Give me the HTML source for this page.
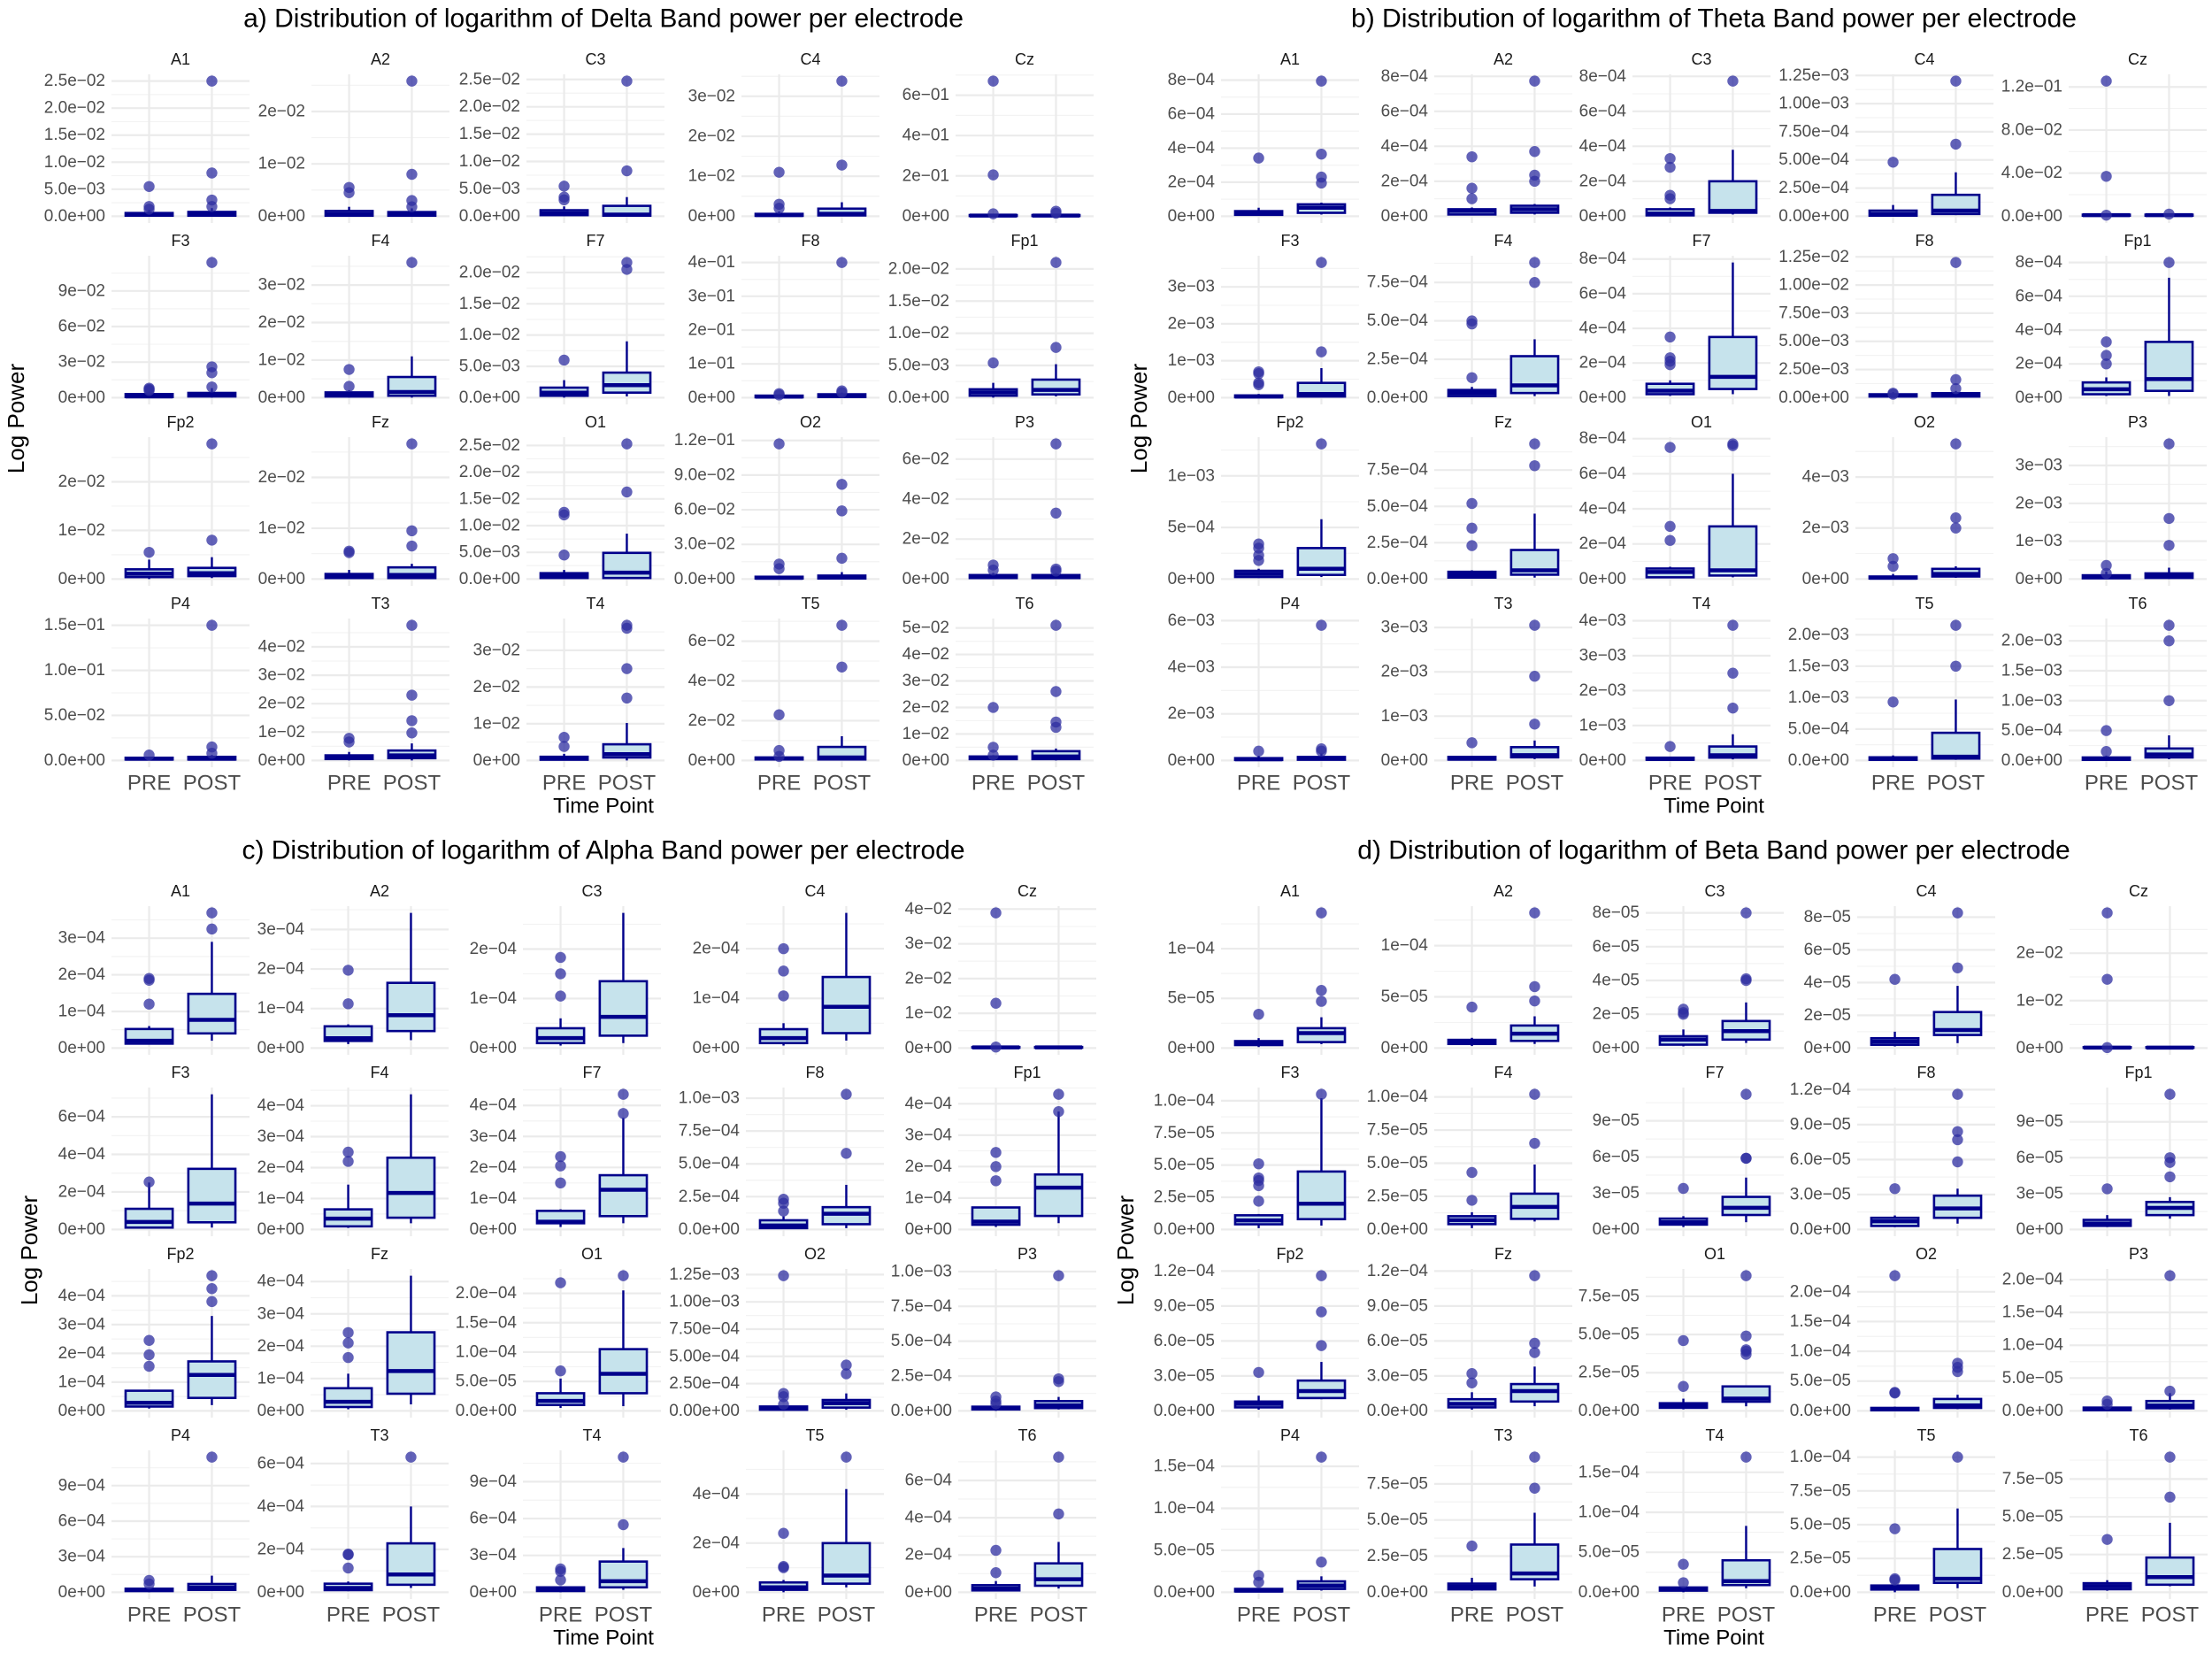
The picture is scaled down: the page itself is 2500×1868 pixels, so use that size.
<!DOCTYPE html>
<html><head><meta charset="utf-8"><style>
html,body{margin:0;padding:0;background:#fff;}
svg{display:block;font-family:"Liberation Sans",Arial,sans-serif;}
</style></head><body>
<svg id="chart" width="2500" height="1868" viewBox="0 0 2500 1868" xmlns="http://www.w3.org/2000/svg"></svg>
<script>
const electrodes = ["A1","A2","C3","C4","Cz","F3","F4","F7","F8","Fp1","Fp2","Fz","O1","O2","P3","P4","T3","T4","T5","T6"];
const timePoints = ["PRE","POST"];

/* ---------- a) Delta ---------- */
const deltaTicks = [
 ["0.0e+00","5.0e-03","1.0e-02","1.5e-02","2.0e-02","2.5e-02"],["0e+00","1e-02","2e-02"],["0.0e+00","5.0e-03","1.0e-02","1.5e-02","2.0e-02","2.5e-02"],["0e+00","1e-02","2e-02","3e-02"],["0e+00","2e-01","4e-01","6e-01"],
 ["0e+00","3e-02","6e-02","9e-02"],["0e+00","1e-02","2e-02","3e-02"],["0.0e+00","5.0e-03","1.0e-02","1.5e-02","2.0e-02"],["0e+00","1e-01","2e-01","3e-01","4e-01"],["0.0e+00","5.0e-03","1.0e-02","1.5e-02","2.0e-02"],
 ["0e+00","1e-02","2e-02"],["0e+00","1e-02","2e-02"],["0.0e+00","5.0e-03","1.0e-02","1.5e-02","2.0e-02","2.5e-02"],["0.0e+00","3.0e-02","6.0e-02","9.0e-02","1.2e-01"],["0e+00","2e-02","4e-02","6e-02"],
 ["0.0e+00","5.0e-02","1.0e-01","1.5e-01"],["0e+00","1e-02","2e-02","3e-02","4e-02"],["0e+00","1e-02","2e-02","3e-02"],["0e+00","2e-02","4e-02","6e-02"],["0e+00","1e-02","2e-02","3e-02","4e-02","5e-02"]];
const deltaPre = [
 [0,0.0001,0.0003,0.0006,0.0012],[0,0.0001,0.0004,0.001,0.0018],[0,0.0002,0.0005,0.0011,0.0018],[0,0.0001,0.0003,0.0006,0.0012],[0,0.001,0.003,0.006,0.01],
 [0,0.0005,0.001,0.003,0.005],[0,0.0003,0.0007,0.0014,0.002],[0,0.0003,0.0008,0.0016,0.0028],[0,0.001,0.003,0.006,0.01],[0,0.0003,0.0008,0.0013,0.0023],
 [0,0.0004,0.0011,0.002,0.004],[0,0.0002,0.0006,0.001,0.0018],[0,0.0002,0.0006,0.0011,0.0017],[0,0.0005,0.001,0.002,0.003],[0,0.0005,0.001,0.002,0.003],
 [0,0.001,0.002,0.003,0.004],[0,0.0005,0.001,0.0018,0.003],[0,0.0002,0.0005,0.001,0.0018],[0,0.0005,0.001,0.0015,0.002],[0,0.0005,0.001,0.0015,0.002]];
const deltaPreOut = [
 [0.0055,0.0018,0.0013],[0.0055,0.0045],[0.0055,0.0035,0.003],[0.011,0.003,0.002],[0.67,0.205,0.012],
 [0.008,0.007,0.006],[0.0075,0.003],[0.006],[0.012,0.008],[0.0054],
 [0.0055],[0.0055,0.0052],[0.0125,0.012,0.0045],[0.117,0.013,0.009],[0.007,0.0045],
 [0.006],[0.0078,0.0065],[0.0063,0.0038],[0.023,0.005,0.002],[0.02,0.005,0.002]];
const deltaPost = [
 [0,0.0001,0.0004,0.0008,0.0015],[0,0.0001,0.0003,0.0008,0.0015],[0,0.0001,0.0003,0.0019,0.0035],[0,0.0002,0.0006,0.0019,0.0035],[0,0.001,0.003,0.006,0.012],
 [0,0.001,0.002,0.004,0.008],[0,0.0005,0.0015,0.0055,0.011],[0.0002,0.0008,0.002,0.004,0.009],[0,0.002,0.005,0.01,0.015],[0.0002,0.0005,0.0012,0.0028,0.0052],
 [0.0002,0.0006,0.0012,0.0023,0.0045],[0,0.0002,0.0008,0.0023,0.003],[0,0.0002,0.0012,0.0049,0.0085],[0,0.0005,0.0015,0.003,0.006],[0,0.0005,0.001,0.002,0.003],
 [0,0.001,0.002,0.004,0.006],[0,0.0008,0.0018,0.0035,0.006],[0,0.0008,0.0017,0.0044,0.0102],[0,0.0005,0.0015,0.0068,0.0122],[0,0.0005,0.0015,0.0035,0.0045]];
const deltaPostOut = [
 [0.025,0.008,0.003,0.0018],[0.0258,0.008,0.003,0.0018],[0.0247,0.0083],[0.0338,0.0128],[0.025,0.015],
 [0.114,0.026,0.021,0.009],[0.036],[0.0216,0.0205],[0.4,0.02,0.015],[0.021,0.0078],
 [0.0278,0.008],[0.0266,0.0095,0.0065],[0.0253,0.0163],[0.082,0.059,0.018],[0.0676,0.033,0.005,0.004],
 [0.15,0.015,0.008],[0.0476,0.023,0.014,0.0097],[0.0368,0.036,0.025,0.017],[0.068,0.047],[0.051,0.026,0.0145,0.0125]];

/* ---------- b) Theta ---------- */
const thetaTicks = [
 ["0e+00","2e-04","4e-04","6e-04","8e-04"],["0e+00","2e-04","4e-04","6e-04","8e-04"],["0e+00","2e-04","4e-04","6e-04","8e-04"],["0.00e+00","2.50e-04","5.00e-04","7.50e-04","1.00e-03","1.25e-03"],["0.0e+00","4.0e-02","8.0e-02","1.2e-01"],
 ["0e+00","1e-03","2e-03","3e-03"],["0.0e+00","2.5e-04","5.0e-04","7.5e-04"],["0e+00","2e-04","4e-04","6e-04","8e-04"],["0.00e+00","2.50e-03","5.00e-03","7.50e-03","1.00e-02","1.25e-02"],["0e+00","2e-04","4e-04","6e-04","8e-04"],
 ["0e+00","5e-04","1e-03"],["0.0e+00","2.5e-04","5.0e-04","7.5e-04"],["0e+00","2e-04","4e-04","6e-04","8e-04"],["0e+00","2e-03","4e-03"],["0e+00","1e-03","2e-03","3e-03"],
 ["0e+00","2e-03","4e-03","6e-03"],["0e+00","1e-03","2e-03","3e-03"],["0e+00","1e-03","2e-03","3e-03","4e-03"],["0.0e+00","5.0e-04","1.0e-03","1.5e-03","2.0e-03"],["0.0e+00","5.0e-04","1.0e-03","1.5e-03","2.0e-03"]];
const thetaPre = [
 [0.000005,0.000008,0.00002,0.00003,0.00005],[0.000005,0.00001,0.00003,0.00004,0.00005],[0.000002,0.000005,0.000015,0.00004,0.00005],[0,0.000005,0.00002,0.00005,0.0001],[0,0.0005,0.001,0.0015,0.002],
 [0,0.00001,0.00003,0.00006,0.0001],[0.000005,0.00001,0.00003,0.00005,0.00007],[0.00001,0.00002,0.00004,0.00008,0.0001],[0,0.0001,0.0002,0.0003,0.0005],[0.00001,0.00002,0.00005,0.00009,0.00012],
 [0.00001,0.00002,0.00005,0.00008,0.0001],[0.000005,0.00001,0.00003,0.00005,0.00006],[0.000005,0.00001,0.00004,0.00006,0.00007],[0,0.00002,0.00005,0.0001,0.0002],[0,0.00002,0.00005,0.0001,0.0002],
 [0,0.00002,0.00005,0.0001,0.0002],[0,0.00002,0.00004,0.00008,0.0001],[0,0.00002,0.00004,0.00008,0.0001],[0,0.00001,0.00003,0.00005,0.00008],[0,0.00001,0.00003,0.00005,0.00008]];
const thetaPreOut = [
 [0.000342],[0.00034,0.00016,0.0001],[0.00033,0.00028,0.00012,0.0001],[0.00048],[0.1254,0.037,0.001],
 [0.0007,0.00065,0.0004,0.00035],[0.0005,0.00048,0.00013],[0.00035,0.00023,0.00021,0.00019],[0.0004,0.0003],[0.00033,0.00025,0.0002],
 [0.00034,0.0003,0.00023,0.00018],[0.00052,0.00035,0.00023],[0.00075,0.0003,0.00022],[0.0008,0.0005],[0.00036,0.00015],
 [0.0004],[0.0004],[0.0004],[0.00093],[0.0005,0.00015]];
const thetaPost = [
 [0.00001,0.00002,0.00005,0.00007,0.00008],[0.00001,0.00002,0.00004,0.00006,0.00007],[0.00001,0.00002,0.00003,0.0002,0.00038],[0.00001,0.00002,0.00005,0.00019,0.00039],[0,0.0005,0.001,0.0015,0.002],
 [0.00001,0.00003,0.0001,0.0004,0.0008],[0.00001,0.00003,0.00008,0.00027,0.00038],[0.00002,0.00005,0.00012,0.00035,0.00078],[0,0.0001,0.0002,0.0004,0.0006],[0.00001,0.00004,0.00011,0.00033,0.00071],
 [0.00002,0.00004,0.0001,0.0003,0.00058],[0.00001,0.00003,0.00006,0.0002,0.00045],[0.00001,0.00002,0.00005,0.0003,0.0006],[0.00005,0.0001,0.0002,0.0004,0.0005],[0,0.00003,0.00008,0.00015,0.0003],
 [0,0.00003,0.0001,0.00015,0.0003],[0.00003,0.00007,0.00012,0.0003,0.00045],[0.00003,0.00008,0.00015,0.0004,0.00075],[0.00001,0.00003,0.00006,0.00044,0.00097],[0.00002,0.00005,0.0001,0.0002,0.00042]];
const thetaPostOut = [
 [0.000794,0.000365,0.00023,0.000195],[0.000773,0.00037,0.000235,0.0002],[0.000773],[0.0012,0.00064],[0.002],
 [0.00366,0.00124],[0.00088,0.00075],[],[0.012,0.0016,0.0008],[0.0008],
 [0.00131],[0.00093,0.00078],[0.00077,0.00076],[0.0053,0.0024,0.002],[0.00357,0.0016,0.00089],
 [0.0058,0.0005,0.0004],[0.00305,0.0019,0.00082],[0.00387,0.0025,0.0015],[0.00215,0.0015],[0.00226,0.002,0.001]];

/* ---------- c) Alpha ---------- */
const alphaTicks = [
 ["0e+00","1e-04","2e-04","3e-04"],["0e+00","1e-04","2e-04","3e-04"],["0e+00","1e-04","2e-04"],["0e+00","1e-04","2e-04"],["0e+00","1e-02","2e-02","3e-02","4e-02"],
 ["0e+00","2e-04","4e-04","6e-04"],["0e+00","1e-04","2e-04","3e-04","4e-04"],["0e+00","1e-04","2e-04","3e-04","4e-04"],["0.0e+00","2.5e-04","5.0e-04","7.5e-04","1.0e-03"],["0e+00","1e-04","2e-04","3e-04","4e-04"],
 ["0e+00","1e-04","2e-04","3e-04","4e-04"],["0e+00","1e-04","2e-04","3e-04","4e-04"],["0.0e+00","5.0e-05","1.0e-04","1.5e-04","2.0e-04"],["0.00e+00","2.50e-04","5.00e-04","7.50e-04","1.00e-03","1.25e-03"],["0.0e+00","2.5e-04","5.0e-04","7.5e-04","1.0e-03"],
 ["0e+00","3e-04","6e-04","9e-04"],["0e+00","2e-04","4e-04","6e-04"],["0e+00","3e-04","6e-04","9e-04"],["0e+00","2e-04","4e-04"],["0e+00","2e-04","4e-04","6e-04"]];
const alphaPre = [
 [0.00001,0.000012,0.00002,0.000052,0.00006],[0.00001,0.000018,0.000025,0.000055,0.00006],[0.000005,0.00001,0.00002,0.00004,0.00006],[0.000005,0.00001,0.00002,0.000038,0.00005],[0,0.0001,0.0002,0.0003,0.0005],
 [0.000005,0.00001,0.00004,0.00011,0.00025],[0.000005,0.00001,0.000035,0.000065,0.000145],[0.000008,0.00002,0.000025,0.00006,0.000065],[0.000005,0.00001,0.00003,0.00007,0.0001],[0.000008,0.000015,0.000025,0.00007,0.00007],
 [0.000008,0.000015,0.000028,0.00007,0.00007],[0.000005,0.000012,0.000028,0.00007,0.000115],[0.000005,0.00001,0.000017,0.00003,0.000055],[0,0.00001,0.00002,0.00004,0.00005],[0,0.00001,0.00002,0.00003,0.00004],
 [0,0.00001,0.00002,0.00003,0.00004],[0.000005,0.00001,0.00002,0.00004,0.00005],[0,0.00001,0.00002,0.00004,0.00005],[0,0.00001,0.00002,0.00004,0.00005],[0.000005,0.00001,0.00002,0.000038,0.00006]];
const alphaPreOut = [
 [0.00019,0.000185,0.00012],[0.000197,0.000112],[0.000183,0.00015,0.000105],[0.0002,0.000155,0.000105],[0.0389,0.0129,0.0003],
 [0.000253],[0.00025,0.00022],[0.000235,0.000205,0.00015],[0.00023,0.0002,0.00014],[0.000245,0.0002,0.000155],
 [0.000245,0.000195,0.000155],[0.000242,0.00021,0.000165],[0.000218,0.000068],[0.00124,0.00016,0.00013,0.00006],[0.0001,0.00007,0.00005],
 [0.0001,0.00007],[0.000178,0.000175,0.000113],[0.00019,0.00017,0.0001],[0.00024,0.000105,0.0001],[0.000225,0.000105]];
const alphaPost = [
 [0.00002,0.00004,0.000077,0.000148,0.00029],[0.00002,0.000043,0.000083,0.000165,0.000342],[0.00001,0.000025,0.000063,0.000135,0.000273],[0.000015,0.00003,0.000083,0.000143,0.000272],[0,0.0001,0.0002,0.0003,0.0005],
 [0.00001,0.000038,0.000138,0.000323,0.00072],[0.00002,0.000038,0.000118,0.000232,0.000437],[0.00002,0.000043,0.000128,0.000175,0.00036],[0.00001,0.00004,0.00012,0.00017,0.00034],[0.00002,0.000043,0.000133,0.000175,0.000375],
 [0.00002,0.000045,0.000125,0.000172,0.00033],[0.00002,0.000053,0.000123,0.000243,0.000418],[0.000008,0.00003,0.000063,0.000105,0.000205],[0.00001,0.00003,0.00007,0.0001,0.00016],[0.00001,0.00002,0.00004,0.00007,0.0001],
 [0.00001,0.00002,0.00004,0.00007,0.00014],[0.00002,0.000035,0.000083,0.000228,0.0004],[0.00002,0.00004,0.00009,0.00025,0.00036],[0.00002,0.000035,0.000068,0.0002,0.00042],[0.00002,0.000035,0.00007,0.000155,0.00027]];
const alphaPostOut = [
 [0.000369,0.000325],[],[],[],[],
 [],[],[0.000436,0.000374],[0.00103,0.00058],[0.00043,0.000375],
 [0.00047,0.000425,0.00038],[],[0.00023],[0.00042,0.00034],[0.00097,0.00023,0.00021],
 [0.00114],[0.00063],[0.0011,0.00055],[0.00055],[0.000725,0.00042]];

/* ---------- d) Beta ---------- */
const betaTicks = [
 ["0e+00","5e-05","1e-04"],["0e+00","5e-05","1e-04"],["0e+00","2e-05","4e-05","6e-05","8e-05"],["0e+00","2e-05","4e-05","6e-05","8e-05"],["0e+00","1e-02","2e-02"],
 ["0.0e+00","2.5e-05","5.0e-05","7.5e-05","1.0e-04"],["0.0e+00","2.5e-05","5.0e-05","7.5e-05","1.0e-04"],["0e+00","3e-05","6e-05","9e-05"],["0.0e+00","3.0e-05","6.0e-05","9.0e-05","1.2e-04"],["0e+00","3e-05","6e-05","9e-05"],
 ["0.0e+00","3.0e-05","6.0e-05","9.0e-05","1.2e-04"],["0.0e+00","3.0e-05","6.0e-05","9.0e-05","1.2e-04"],["0.0e+00","2.5e-05","5.0e-05","7.5e-05"],["0.0e+00","5.0e-05","1.0e-04","1.5e-04","2.0e-04"],["0.0e+00","5.0e-05","1.0e-04","1.5e-04","2.0e-04"],
 ["0.0e+00","5.0e-05","1.0e-04","1.5e-04"],["0.0e+00","2.5e-05","5.0e-05","7.5e-05"],["0.0e+00","5.0e-05","1.0e-04","1.5e-04"],["0.0e+00","2.5e-05","5.0e-05","7.5e-05","1.0e-04"],["0.0e+00","2.5e-05","5.0e-05","7.5e-05"]];
const betaPre = [
 [0.000001,0.000003,0.000005,0.000007,0.00001],[0.000002,0.000004,0.000006,0.000008,0.00001],[0.000001,0.000002,0.000005,0.000007,0.000011],[0.000001,0.000002,0.000004,0.000006,0.00001],[0,0.00005,0.0001,0.0002,0.0003],
 [0.000001,0.000004,0.000007,0.000011,0.000012],[0.000001,0.000004,0.000007,0.00001,0.000013],[0.000002,0.000004,0.000006,0.000009,0.000011],[0.000002,0.000003,0.000007,0.00001,0.000012],[0.000002,0.000003,0.000005,0.000008,0.000012],
 [0.000001,0.000003,0.000006,0.000008,0.000013],[0.000001,0.000003,0.000006,0.00001,0.000016],[0.000001,0.000002,0.000003,0.000005,0.000008],[0,0.000001,0.000003,0.000005,0.000007],[0,0.000001,0.000003,0.000005,0.000007],
 [0,0.000001,0.000002,0.000004,0.000005],[0.000001,0.000002,0.000004,0.000006,0.00001],[0,0.000002,0.000004,0.000006,0.000007],[0,0.000002,0.000003,0.000005,0.000005],[0.000001,0.000002,0.000004,0.000006,0.000008]];
const betaPreOut = [
 [0.000034],[0.00004],[0.000023,0.000021,0.00002],[0.000042],[0.0285,0.0145,0.0001],
 [0.000051,0.00004,0.000038,0.000034,0.000022],[0.000043,0.000022],[0.000034],[0.000035],[0.000034],
 [0.000033],[0.000032,0.000024],[0.000046,0.000016],[0.000227,0.00003,0.000031],[0.000015,0.00001],
 [0.00002,0.000012],[0.000032],[0.000035,0.000012],[0.000047,0.00001,0.000009],[0.000035]];
const betaPost = [
 [0.000004,0.000006,0.000015,0.00002,0.000031],[0.000004,0.000007,0.000014,0.000022,0.000031],[0.000003,0.000005,0.00001,0.000016,0.000027],[0.000003,0.000008,0.000011,0.000022,0.000038],[0,0.00005,0.0001,0.0002,0.0003],
 [0.000003,0.000008,0.00002,0.000045,0.000102],[0.000006,0.000008,0.000017,0.000027,0.000049],[0.000006,0.000012,0.000018,0.000027,0.000043],[0.000005,0.00001,0.000018,0.000029,0.000035],[0.000009,0.000012,0.000018,0.000023,0.000027],
 [0.00001,0.000011,0.000017,0.000026,0.000042],[0.000004,0.000008,0.000017,0.000023,0.000038],[0.000003,0.000006,0.000008,0.000016,0.000016],[0.000003,0.000005,0.000009,0.00002,0.000027],[0.000002,0.000004,0.000008,0.000015,0.000027],
 [0.000002,0.000004,0.000008,0.000013,0.000019],[0.000004,0.000009,0.000013,0.000033,0.000055],[0.000005,0.000009,0.000014,0.00004,0.000083],[0.000003,0.000007,0.00001,0.000032,0.000062],[0.000004,0.000005,0.00001,0.000023,0.000046]];
const betaPostOut = [
 [0.000136,0.000058,0.000047],[0.000132,0.00006,0.000046],[0.00008,0.000041,0.00004],[0.0000826,0.000049],[],
 [0.000105],[0.000102,0.000065],[0.000112,0.000059,0.000059],[0.000116,0.000084,0.000077,0.000058],[0.000113,0.00006,0.000056,0.000044],
 [0.000116,0.000085,0.000056],[0.000116,0.000058,0.00005],[0.0000885,0.000049,0.00004,0.000039,0.000037],[0.00008,0.000073,0.000066],[0.000206,0.00003],
 [0.000161,0.000036],[0.0000935,0.000072],[0.000169],[0.0001],[0.0000895,0.000063]];

const plots = [
 {key:'delta', title:'a) Distribution of logarithm of Delta Band power per electrode', ox:0, oy:0, cols:[126,352,595,838,1080], cx:682, lx:18, ticks:deltaTicks, pre:deltaPre, preOut:deltaPreOut, post:deltaPost, postOut:deltaPostOut},
 {key:'theta', title:'b) Distribution of logarithm of Theta Band power per electrode', ox:1250, oy:0, cols:[130,371,595,847,1088], cx:687, lx:37, ticks:thetaTicks, pre:thetaPre, preOut:thetaPreOut, post:thetaPost, postOut:thetaPostOut},
 {key:'alpha', title:'c) Distribution of logarithm of Alpha Band power per electrode', ox:0, oy:940, cols:[126,351,591,843,1083], cx:682, lx:33, ticks:alphaTicks, pre:alphaPre, preOut:alphaPreOut, post:alphaPost, postOut:alphaPostOut},
 {key:'beta', title:'d) Distribution of logarithm of Beta Band power per electrode', ox:1250, oy:940, cols:[130,371,610,849,1089], cx:687, lx:22, ticks:betaTicks, pre:betaPre, preOut:betaPreOut, post:betaPost, postOut:betaPostOut}
];

const NS = 'http://www.w3.org/2000/svg';
const svg = document.getElementById('chart');
function mk(tag, attrs, parent) {
  const e = document.createElementNS(NS, tag);
  for (const k in attrs) e.setAttribute(k, attrs[k]);
  (parent || svg).appendChild(e);
  return e;
}
const PW = 156, PH = 168, ROW = 205, TOP = 84;
const GRID = '#ebebeb', NAVY = '#00008B';

plots.forEach(p => {
  const g = mk('g', {});
  
  
  const t = mk('text', {x: p.ox + p.cx, y: p.oy + 21, 'text-anchor': 'middle', 'dominant-baseline': 'central', 'font-size': 30, fill: '#000'}, g);
  t.textContent = p.title;
  
  
  const yl = mk('text', {x: 0, y: 0, 'text-anchor': 'middle', 'dominant-baseline': 'central', 'font-size': 26, fill: '#000', transform: 'translate(' + (p.ox + p.lx) + ',' + (p.oy + 473) + ') rotate(-90)'}, g);
  yl.textContent = 'Log Power';
  
  
  const xl = mk('text', {x: p.ox + p.cx, y: p.oy + 911, 'text-anchor': 'middle', 'dominant-baseline': 'central', 'font-size': 24, fill: '#000'}, g);
  xl.textContent = 'Time Point';
  
  

  electrodes.forEach((el, i) => {
    const r = Math.floor(i / 5), c = i % 5;
    const x0 = p.ox + p.cols[c], y0 = p.oy + TOP + ROW * r;
    const fg = mk('g', {}, g);
    
    
    const tickVals = p.ticks[i].map(s => parseFloat(s));
    const all = [].concat(p.pre[i], p.post[i], p.preOut[i], p.postOut[i]);
    const vmax = Math.max.apply(null, all), vmin = Math.min(0, Math.min.apply(null, all));
    const span = vmax - vmin;
    const lo = vmin - 0.05 * span, hi = vmax + 0.05 * span;
    const ys = v => y0 + PH - (v - lo) / (hi - lo) * PH;
    const xs = k => x0 + (k + 0.6) / 2.2 * PW;
    // minor grid
    const step = tickVals.length > 1 ? tickVals[1] - tickVals[0] : span;
    for (let m = tickVals[0] - step / 2; m <= hi; m += step) {
      if (m < lo) continue;
      const ml = mk('line', {x1: x0, x2: x0 + PW, y1: ys(m), y2: ys(m), stroke: '#f3f3f3', 'stroke-width': 1.2}, fg);
      
      
    }
    tickVals.forEach((v, j) => {
      const gl = mk('line', {x1: x0, x2: x0 + PW, y1: ys(v), y2: ys(v), stroke: GRID, 'stroke-width': 2.2}, fg);
      
      
      const tl = mk('text', {x: x0 - 7, y: ys(v), 'text-anchor': 'end', 'dominant-baseline': 'central', 'font-size': 19, fill: '#4d4d4d'}, fg);
      tl.textContent = p.ticks[i][j].replace(/-/g, '\u2212');
      
      
    });
    timePoints.forEach((tp, k) => {
      const vl = mk('line', {x1: xs(k), x2: xs(k), y1: y0, y2: y0 + PH, stroke: GRID, 'stroke-width': 2.2}, fg);
      
      
    });
    const st = mk('text', {x: x0 + PW / 2, y: y0 - 17, 'text-anchor': 'middle', 'dominant-baseline': 'central', 'font-size': 18, fill: '#1a1a1a'}, fg);
    st.textContent = el;
    
    
    [[p.pre[i], p.preOut[i]], [p.post[i], p.postOut[i]]].forEach((d, k) => {
      const s = d[0], cx = xs(k), hw = 0.375 / 2.2 * PW;
      const bg = mk('g', {}, fg);
      
      
      const w1 = mk('line', {x1: cx, x2: cx, y1: ys(s[0]), y2: ys(s[1]), stroke: NAVY, 'stroke-width': 2.4}, bg);
      
      
      const w2 = mk('line', {x1: cx, x2: cx, y1: ys(s[3]), y2: ys(s[4]), stroke: NAVY, 'stroke-width': 2.4}, bg);
      
      
      const bx = mk('rect', {x: cx - hw, y: ys(s[3]), width: 2 * hw, height: Math.max(ys(s[1]) - ys(s[3]), 0.5), fill: '#c6e3ec', stroke: NAVY, 'stroke-width': 2.6}, bg);
      
      
      const md = mk('line', {x1: cx - hw, x2: cx + hw, y1: ys(s[2]), y2: ys(s[2]), stroke: NAVY, 'stroke-width': 4.5}, bg);
      
      
      d[1].forEach(o => {
        const pt = mk('circle', {cx: cx, cy: ys(o), r: 6.2, fill: '#2e2ea0', 'fill-opacity': 0.75}, bg);
        
        
      });
      if (r === 3) {
        const xt = mk('text', {x: cx, y: p.oy + 885, 'text-anchor': 'middle', 'dominant-baseline': 'central', 'font-size': 24, fill: '#4d4d4d'}, fg);
        xt.textContent = timePoints[k];
        
        
      }
    });
  });
});
</script>
</body></html>
